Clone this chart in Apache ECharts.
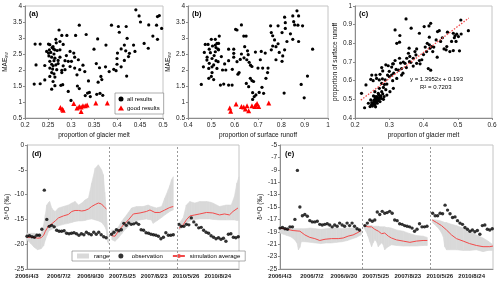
<!DOCTYPE html>
<html><head><meta charset="utf-8">
<script src="https://cdn.jsdelivr.net/npm/echarts@6/dist/echarts.min.js"></script>
<style>html,body{margin:0;padding:0;background:#fff}#c{width:500px;height:285px}</style>
</head><body><div id="c"></div><script>
// ---------- Panel (a): proportion of glacier melt vs MAE ----------
const aAll = [[0.441,3.88],[0.448,3.69],[0.451,3.50],[0.488,3.67],[0.492,3.70],[0.497,3.30],[0.486,3.40],[0.469,3.41],[0.388,3.40],[0.403,3.36],[0.405,3.18],[0.420,3.36],[0.318,3.40],[0.274,3.25],[0.280,3.08],[0.291,3.08],[0.310,3.08],[0.333,3.11],[0.358,2.97],[0.422,2.99],[0.478,3.06],[0.488,2.96],[0.459,2.83],[0.468,2.68],[0.436,2.78],[0.416,2.78],[0.376,2.78],[0.350,2.65],[0.409,2.66],[0.419,2.60],[0.401,2.53],[0.439,2.58],[0.427,2.52],[0.400,2.36],[0.416,2.30],[0.425,2.42],[0.400,2.18],[0.393,2.02],[0.398,1.98],[0.383,1.95],[0.409,2.10],[0.421,1.81],[0.355,2.20],[0.362,2.07],[0.375,2.10],[0.365,1.80],[0.367,1.70],[0.359,1.62],[0.338,1.66],[0.356,1.24],[0.363,1.27],[0.369,1.21],[0.331,1.20],[0.342,1.17],[0.336,1.28],[0.340,1.30],[0.318,1.42],[0.314,1.50],[0.300,1.05],[0.294,1.33],
[0.222,2.81],[0.233,2.81],[0.251,2.81],[0.254,2.79],[0.267,2.96],[0.276,2.89],[0.261,2.73],[0.283,2.80],[0.253,2.63],[0.265,2.63],[0.270,2.61],[0.276,2.63],[0.251,2.53],[0.256,2.55],[0.263,2.50],[0.252,2.44],[0.258,2.40],[0.265,2.37],[0.276,2.40],[0.254,2.27],[0.263,2.29],[0.272,2.30],[0.287,2.29],[0.294,2.27],[0.224,2.16],[0.243,2.14],[0.258,2.18],[0.261,2.13],[0.267,2.16],[0.283,2.13],[0.298,2.11],[0.254,2.06],[0.260,2.03],[0.269,2.01],[0.280,1.99],[0.287,2.01],[0.258,1.92],[0.263,1.88],[0.280,1.92],[0.254,1.80],[0.265,1.78],[0.243,1.69],[0.261,1.64],[0.220,1.56],[0.233,1.57],[0.265,1.51],[0.282,1.54],[0.258,1.40],[0.298,2.58],[0.306,2.53],[0.308,2.40],[0.301,2.27],[0.316,2.32],[0.308,2.06],[0.319,2.01],[0.313,1.85],[0.262,2.66],[0.259,2.70],[0.268,2.85],[0.247,2.58],[0.272,2.20],[0.290,2.45],[0.326,2.15],[0.330,1.95],[0.278,1.52]];
const aGood = [[0.277,0.83],[0.283,0.74],[0.306,0.95],[0.313,0.81],[0.318,0.86],[0.322,0.70],[0.326,0.88],[0.331,0.88],[0.335,0.91],[0.354,0.97],[0.379,0.97],[0.322,0.84],[0.281,0.78]];

// ---------- Panel (b): proportion of surface runoff vs MAE ----------
const bAll = [[0.867,3.85],[0.849,3.69],[0.874,3.69],[0.814,3.65],[0.853,3.51],[0.857,3.41],[0.871,3.40],[0.891,3.38],[0.817,3.48],[0.786,3.38],[0.754,3.38],[0.757,3.17],[0.763,3.07],[0.771,2.94],[0.803,3.17],[0.817,3.30],[0.839,3.13],[0.849,2.96],[0.824,2.89],[0.786,2.82],[0.777,2.73],[0.763,2.75],[0.757,2.63],[0.874,2.89],[0.934,2.65],[0.814,2.63],[0.806,2.44],[0.791,2.55],[0.714,2.58],[0.731,2.53],[0.689,2.56],[0.710,2.32],[0.777,2.32],[0.803,2.27],[0.743,2.06],[0.674,2.11],[0.700,2.06],[0.720,2.06],
[0.629,3.41],[0.610,3.25],[0.639,3.06],[0.649,3.06],[0.534,3.06],[0.500,2.96],[0.517,2.96],[0.524,2.83],[0.474,2.80],[0.486,2.80],[0.517,2.78],[0.531,2.83],[0.491,2.65],[0.529,2.65],[0.496,2.54],[0.517,2.57],[0.531,2.63],[0.574,2.65],[0.596,2.65],[0.643,2.73],[0.596,2.52],[0.629,2.50],[0.596,2.40],[0.624,2.33],[0.610,2.26],[0.543,2.42],[0.503,2.36],[0.520,2.29],[0.481,2.31],[0.491,2.21],[0.510,2.16],[0.529,2.26],[0.557,2.19],[0.574,2.29],[0.466,2.10],[0.503,2.10],[0.489,2.05],[0.524,2.05],[0.548,2.00],[0.562,2.00],[0.590,2.02],[0.619,1.92],[0.652,2.32],[0.662,2.24],[0.668,2.15],[0.640,2.38],[0.658,2.48],[0.520,2.70],[0.505,2.75],[0.512,2.45],[0.470,2.55],[0.482,2.40],[0.500,1.80],[0.510,1.70],[0.604,3.27],[0.655,2.60],
[0.457,1.55],[0.489,1.74],[0.503,1.92],[0.539,1.53],[0.553,1.56],[0.574,1.53],[0.589,1.53],[0.614,1.87],[0.660,1.48],[0.674,1.67],[0.677,1.29],[0.691,1.22],[0.717,1.46],[0.724,1.27],[0.684,1.17],[0.677,1.08],[0.734,1.74],[0.741,1.92],[0.667,1.74],[0.681,1.64],[0.650,1.58],[0.705,1.30],[0.885,1.55],[0.912,1.81],[0.812,1.28],[0.898,1.13]];
const bGood = [[0.579,0.81],[0.583,0.71],[0.606,0.94],[0.629,0.86],[0.639,0.84],[0.646,0.78],[0.660,0.73],[0.674,0.88],[0.686,0.86],[0.696,0.95],[0.703,0.86],[0.746,0.97],[0.653,0.88],[0.690,0.90]];

// ---------- Panel (c): glacier melt vs surface runoff ----------
const cAll = [[0.349,0.931],[0.317,0.872],[0.331,0.842],[0.330,0.806],[0.322,0.800],[0.364,0.881],[0.388,0.854],[0.402,0.890],[0.416,0.893],[0.421,0.907],[0.509,0.925],[0.531,0.868],[0.487,0.854],[0.492,0.840],[0.497,0.849],[0.502,0.836],[0.482,0.810],[0.495,0.810],[0.441,0.863],[0.446,0.868],[0.437,0.818],[0.450,0.810],[0.417,0.833],[0.411,0.800],[0.417,0.792],[0.424,0.783],[0.419,0.774],[0.427,0.756],[0.409,0.756],[0.468,0.783],[0.466,0.765],[0.477,0.756],[0.487,0.761],[0.440,0.726],[0.358,0.774],[0.356,0.747],[0.375,0.756],[0.378,0.738],[0.395,0.712],[0.388,0.708],[0.363,0.698],[0.351,0.720],[0.341,0.700],[0.317,0.708],[0.310,0.690],[0.333,0.694],[0.290,0.685],[0.278,0.670],
[0.219,0.532],[0.232,0.577],[0.249,0.630],[0.261,0.630],[0.263,0.612],[0.273,0.634],[0.281,0.652],[0.297,0.680],[0.307,0.673],[0.312,0.690],[0.246,0.607],[0.253,0.600],[0.271,0.604],[0.278,0.586],[0.288,0.604],[0.300,0.622],[0.307,0.630],[0.313,0.640],[0.327,0.656],[0.336,0.665],[0.346,0.693],[0.359,0.702],[0.370,0.678],[0.380,0.693],[0.414,0.665],[0.421,0.656],[0.336,0.630],[0.322,0.612],[0.310,0.600],[0.293,0.582],[0.283,0.564],[0.271,0.559],[0.278,0.541],[0.268,0.532],[0.258,0.541],[0.254,0.518],[0.246,0.497],[0.239,0.479],[0.228,0.455],[0.249,0.482],[0.256,0.488],[0.261,0.497],[0.265,0.505],[0.271,0.511],[0.275,0.518],[0.281,0.529],[0.258,0.470],[0.251,0.464],[0.244,0.461],[0.265,0.479],[0.273,0.488],[0.283,0.500],[0.293,0.523],[0.302,0.541],[0.312,0.559],[0.290,0.552],
[0.252,0.475],[0.255,0.495],[0.259,0.505],[0.262,0.485],[0.267,0.492],[0.263,0.515],[0.269,0.525],[0.248,0.470],[0.256,0.478],[0.270,0.500],[0.260,0.460],[0.277,0.505],[0.285,0.515],[0.258,0.515],
[0.300,0.650],[0.295,0.630],[0.320,0.660],[0.340,0.640],[0.350,0.670],[0.360,0.730],[0.370,0.720],[0.380,0.770],[0.390,0.690],[0.400,0.740],[0.405,0.780],[0.430,0.780],[0.455,0.830],[0.470,0.860],[0.490,0.830],[0.510,0.850],[0.505,0.760],[0.460,0.770],[0.330,0.720],[0.280,0.610],[0.286,0.580]];
const trendSlope = 1.3952, trendIntercept = 0.193;
const trendXRange = [0.217, 0.532];

// ---------- Panels (d),(e): time series (x = days since 2006/4/3, compressed axis) ----------
const dateLabels = ['2006/4/3','2006/7/2','2006/9/30','2007/5/25','2007/8/23','2010/5/26','2010/8/24'];
const segBreaks = [232, 424];
const obsDays = [0,7,14,21,28,35,42,49,56,63,70,77,84,91,98,105,112,119,126,133,140,147,154,161,168,175,182,189,196,203,210,217,224,
 239,246,253,260,267,274,281,288,295,302,309,316,323,330,337,344,351,358,365,372,379,386,393,400,407,414,
 430,437,444,451,458,465,472,479,486,493,500,507,514,521,528,535,542,549,556,563,570,577,584,591,598];
const obsVals = [-18.4,-18.3,-18.5,-18.6,-18.2,-18.2,-17.0,-9.1,-15.0,-16.4,-16.2,-16.5,-17.2,-17.4,-17.4,-17.3,-17.8,-17.9,-17.8,-17.7,-17.9,-18.2,-17.9,-18.1,-17.6,-17.9,-18.1,-17.6,-18.0,-17.6,-18.1,-18.5,-18.7,
 -18.0,-17.6,-17.1,-17.3,-17.1,-15.8,-16.2,-15.7,-16.0,-15.9,-15.7,-16.0,-17.1,-17.2,-17.7,-17.8,-18.0,-18.1,-18.2,-18.4,-18.9,-18.6,-17.7,-18.2,-18.2,-18.1,
 -16.0,-16.4,-16.4,-16.0,-16.1,-14.7,-15.5,-16.1,-16.7,-16.6,-17.2,-17.6,-17.8,-18.3,-18.6,-18.9,-18.7,-19.0,-18.8,-19.4,-18.0,-17.9,-18.6,-18.7,-18.5];

// (d) range band and simulation average, per segment
const dBandX = [
 [0,10,20,30,40,47,52,56,61,64,70,75,80,89,103,117,127,136,146,155,164,174,183,193,202,211,216,220,224,228,231],
 [240,249,258,268,273,282,287,296,301,310,320,329,338,343,352,357,367,371,381,390,400,404,409,414],
 [430,442,451,461,465,475,489,508,517,526,545,564,573,578,587,594,600]];
const dBandLow = [
 [-19.1,-19.8,-20.6,-21.1,-20.9,-20.3,-19.1,-18.3,-17.4,-17.2,-17.0,-16.8,-16.6,-16.3,-16.0,-15.8,-15.6,-15.4,-15.3,-15.3,-15.2,-15.0,-14.9,-15.1,-15.3,-15.6,-16.0,-16.4,-17.0,-19.5,-19.9],
 [-19.1,-19.4,-18.8,-17.9,-17.4,-16.8,-16.4,-15.7,-15.4,-15.2,-15.1,-15.0,-14.9,-15.0,-15.1,-15.8,-15.3,-15.1,-14.6,-14.1,-13.6,-13.4,-13.2,-13.1],
 [-17.1,-16.6,-15.8,-15.3,-15.1,-15.0,-14.9,-14.9,-14.9,-15.0,-15.1,-15.1,-15.1,-15.1,-15.1,-15.2,-15.2]];
const dBandHigh = [
 [-17.8,-17.8,-17.8,-17.9,-17.9,-16.1,-14.0,-12.1,-11.6,-11.4,-12.7,-13.2,-13.4,-12.7,-12.4,-12.1,-11.7,-11.4,-12.1,-11.7,-11.1,-10.7,-7.7,-4.7,-4.0,-5.0,-6.0,-9.5,-13.0,-17.5,-19.2],
 [-17.1,-17.4,-16.6,-15.4,-14.9,-14.1,-13.6,-12.7,-12.6,-12.4,-12.4,-12.4,-12.2,-12.1,-12.4,-12.5,-12.7,-12.6,-12.4,-10.7,-9.0,-8.2,-7.0,-6.4],
 [-15.8,-14.7,-12.1,-11.4,-11.5,-11.7,-11.4,-11.4,-11.5,-11.7,-12.4,-12.1,-12.1,-12.1,-10.4,-7.7,-6.4]];
const dAvgX = [
 [0,10,20,30,40,47,52,56,61,64,70,75,80,89,103,117,127,136,146,155,164,174,183,193,202,211,216,220,225],
 [240,249,258,273,287,301,320,338,348,362,376,390,404,414],
 [430,442,451,461,475,489,508,526,545,559,573,583,597]];
const dAvgVal = [
 [-18.6,-18.6,-18.6,-18.8,-18.7,-18.2,-17.4,-16.9,-16.3,-16.1,-15.9,-15.6,-15.3,-14.7,-14.3,-14.0,-13.4,-13.2,-13.2,-13.3,-13.2,-12.9,-12.4,-12.0,-11.7,-11.9,-12.3,-12.6,-12.9],
 [-18.3,-18.4,-17.4,-16.1,-15.1,-13.9,-13.7,-13.4,-13.1,-13.6,-13.6,-13.1,-12.6,-12.4],
 [-16.8,-16.1,-15.1,-14.3,-14.1,-13.9,-13.6,-13.7,-14.1,-13.9,-14.1,-13.4,-12.7]];

// (e) range band and simulation average, per segment
const eBandX = [
 [0,10,20,30,40,48,52,56,60,70,85,100,115,130,145,160,175,190,205,215,225,230],
 [237,243,248,253,258,262,267,272,277,281,286,290,295,300,305,314,328,347,366,384,403,415],
 [429,441,450,455,460,464,469,478,497,516,534,553,572,586,600]];
const eBandLow = [
 [-19.2,-19.4,-19.6,-19.8,-20.2,-20.8,-21.9,-21.5,-20.6,-20.6,-20.7,-20.8,-20.9,-20.8,-20.8,-20.7,-20.6,-20.4,-20.1,-19.9,-19.6,-19.4],
 [-18.4,-19.0,-19.7,-20.6,-21.4,-20.8,-20.3,-20.6,-21.4,-21.1,-20.8,-21.0,-21.9,-21.6,-21.4,-21.1,-21.2,-21.3,-21.3,-21.3,-21.2,-21.2],
 [-17.5,-18.1,-18.7,-19.2,-19.8,-21.4,-21.9,-21.9,-21.9,-22.0,-22.0,-21.9,-22.2,-22.0,-22.0]];
const eBandHigh = [
 [-18.2,-18.3,-18.3,-18.4,-18.5,-18.5,-18.5,-18.5,-18.5,-18.5,-18.4,-18.5,-18.6,-18.5,-18.4,-18.4,-18.5,-18.4,-18.4,-18.5,-18.7,-18.8],
 [-17.9,-17.9,-18.0,-18.0,-18.0,-18.1,-18.1,-18.1,-18.1,-18.2,-18.2,-18.2,-18.2,-18.3,-18.3,-18.4,-18.7,-18.9,-19.3,-19.6,-19.7,-19.9],
 [-17.0,-17.1,-17.2,-17.3,-17.4,-17.5,-17.5,-17.7,-18.0,-18.4,-18.9,-19.5,-20.0,-20.5,-21.1]];
const eAvgX = [
 [0,19,37,56,70,84,98,112,127,145,164,178,192,206,220,228],
 [237,248,258,267,277,286,295,305,314,328,347,366,384,403,415],
 [429,441,455,469,483,497,516,534,553,572,591,600]];
const eAvgVal = [
 [-18.4,-18.6,-18.8,-18.9,-19.5,-19.9,-20.1,-20.4,-20.2,-20.1,-20.1,-20.0,-19.7,-19.5,-19.1,-18.8],
 [-18.0,-18.2,-18.2,-18.6,-18.9,-19.3,-19.2,-19.7,-20.0,-20.3,-20.5,-20.7,-20.5,-20.4,-20.4],
 [-17.1,-17.5,-18.0,-18.7,-19.5,-20.1,-20.5,-20.9,-21.2,-21.4,-21.4,-21.3]];

// ---------- build ----------
const FONT = 'Liberation Sans';
const axisColor = '#8c8c8c';
const labelColor = '#222';
const RED = '#f24a4a';
const GRAY = '#d9d9d9';

function valAxis(gi, min, max, interval, extra) {
  const base = {
    gridIndex: gi, type: 'value', min, max, interval,
    splitLine: {show: false},
    axisLine: {show: true, onZero: false, lineStyle: {color: axisColor, width: 1}},
    axisTick: {show: true, length: 2, lineStyle: {color: axisColor}},
    axisLabel: {fontSize: 6.5, color: labelColor, margin: 3, fontFamily: FONT},
    nameLocation: 'middle',
    nameTextStyle: {fontSize: 6.5, color: '#111', fontFamily: FONT}
  };
  for (const k in extra) {
    if (typeof extra[k] === 'object' && base[k] && !Array.isArray(extra[k])) base[k] = Object.assign({}, base[k], extra[k]);
    else base[k] = extra[k];
  }
  return base;
}

const maeName = {name: '{m|MAE}{s|sw}', nameGap: 16, nameRotate: 90,
  nameTextStyle: {rich: {m: {fontSize: 6.5, fontFamily: FONT, color: '#111'}, s: {fontSize: 4.5, fontFamily: FONT, color: '#111', verticalAlign: 'bottom', padding: [3, 0, 0, 0]}}}};

const timeLabel = {fontSize: 6, fontWeight: 'bold', margin: 4,
  formatter: v => { const i = Math.round(v / 90); return (Math.abs(v - i * 90) < 1e-6 && dateLabels[i]) ? dateLabels[i] : ''; }};

const xAxes = [
  valAxis(0, 0.2, 0.5, 0.05, {name: 'proportion of glacier melt', nameGap: 14, axisLabel: {margin: 4}}),
  valAxis(1, 0.4, 1, 0.1, {name: 'proportion of surface runoff', nameGap: 14, axisLabel: {margin: 4}}),
  valAxis(2, 0.2, 0.6, 0.1, {name: 'proportion of glacier melt', nameGap: 14, axisLabel: {margin: 4}}),
  valAxis(3, 0, 600, 90, {axisLabel: timeLabel, axisTick: {show: false}}),
  valAxis(4, 0, 600, 90, {axisLabel: timeLabel, axisTick: {show: false}})
];
const yAxes = [
  valAxis(0, 0.5, 4, 0.5, maeName),
  valAxis(1, 0.5, 4, 0.5, maeName),
  valAxis(2, 0.4, 1, 0.1, {name: 'proportion of surface runoff', nameGap: 16, nameRotate: 90}),
  valAxis(3, -25, 0, 5, {name: 'δ¹⁸O (‰)', nameGap: 16, nameRotate: 90}),
  valAxis(4, -25, -5, 2, {name: 'δ¹⁸O (‰)', nameGap: 16, nameRotate: 90})
];

const gridStyle = {show: true, borderColor: '#c4c4c4', borderWidth: 1, backgroundColor: 'transparent', containLabel: false};
const grids = [
  Object.assign({left: 25, top: 6, width: 138, height: 112}, gridStyle),
  Object.assign({left: 188, top: 6, width: 140, height: 112}, gridStyle),
  Object.assign({left: 355, top: 6, width: 137, height: 112}, gridStyle),
  Object.assign({left: 27, top: 145, width: 212, height: 124}, gridStyle),
  Object.assign({left: 280, top: 145, width: 213, height: 124}, gridStyle)
];

const series = [];
function scatter(gi, name, data, symbol, size, color) {
  series.push({type: 'scatter', name, xAxisIndex: gi, yAxisIndex: gi, data, symbol, symbolSize: size,
    itemStyle: {color, opacity: 1}, silent: true, z: 3});
}
scatter(0, 'all results', aAll, 'circle', 3.2, '#000');
scatter(0, 'good results', aGood, 'triangle', 5, '#ff0000');
scatter(1, 'all results', bAll, 'circle', 3.2, '#000');
scatter(1, 'good results', bGood, 'triangle', 5, '#ff0000');
scatter(2, 'points', cAll, 'circle', 3.2, '#000');
series.push({type: 'line', name: 'trend', xAxisIndex: 2, yAxisIndex: 2, symbol: 'none', silent: true, z: 4,
  data: trendXRange.map(x => [x, trendSlope * x + trendIntercept]),
  lineStyle: {color: RED, width: 1.3, type: [1.5, 1.5]}});

// band drawn as quads between consecutive (x, low, high) samples, mapped through the axes
function bandRender(params, api) {
  const p0l = api.coord([api.value(0), api.value(1)]);
  const p0h = api.coord([api.value(0), api.value(2)]);
  const p1h = api.coord([api.value(3), api.value(5)]);
  const p1l = api.coord([api.value(3), api.value(4)]);
  return {type: 'polygon', shape: {points: [p0l, p0h, p1h, p1l]},
    style: {fill: GRAY, stroke: GRAY, lineWidth: 0.6}};
}

function timePanel(gi, bx, blo, bhi, ax, av) {
  for (let s = 0; s < bx.length; s++) {
    const quads = [];
    for (let i = 0; i + 1 < bx[s].length; i++) {
      quads.push([bx[s][i], blo[s][i], bhi[s][i], bx[s][i + 1], blo[s][i + 1], bhi[s][i + 1]]);
    }
    series.push({type: 'custom', name: 'range', xAxisIndex: gi, yAxisIndex: gi, renderItem: bandRender,
      data: quads, encode: {x: [0, 3], y: [1, 2, 4, 5]}, itemStyle: {color: GRAY}, silent: true, z: 1});
    series.push({type: 'line', name: 'simulation average', xAxisIndex: gi, yAxisIndex: gi, symbol: 'none',
      data: ax[s].map((x, i) => [x, av[s][i]]), lineStyle: {color: RED, width: 1}, itemStyle: {color: RED}, silent: true, z: 2});
  }
  series.push({type: 'scatter', name: 'observation', xAxisIndex: gi, yAxisIndex: gi, symbol: 'circle', symbolSize: 3.4,
    data: obsDays.map((d, i) => [d, obsVals[i]]), itemStyle: {color: '#000'}, silent: true, z: 3,
    markLine: {silent: true, symbol: 'none', label: {show: false}, animation: false,
      lineStyle: {type: [2, 2], color: '#9a9a9a', width: 1},
      data: segBreaks.map(b => ({xAxis: b}))}});
}
timePanel(3, dBandX, dBandLow, dBandHigh, dAvgX, dAvgVal);
timePanel(4, eBandX, eBandLow, eBandHigh, eAvgX, eAvgVal);

const txt = (x, y, text, extra) => Object.assign({type: 'text', x, y, silent: true,
  style: Object.assign({text, fontSize: 7.5, fontFamily: FONT, fill: '#000'}, extra || {})});

const option = {
  animation: false,
  textStyle: {fontFamily: FONT},
  grid: grids, xAxis: xAxes, yAxis: yAxes, series,
  legend: [
    {show: true, data: ['all results', 'good results'], orient: 'vertical', left: 115, top: 93,
      itemWidth: 6, itemHeight: 5, itemGap: 3, padding: [3, 4, 3, 3], borderColor: '#777', borderWidth: 0.6,
      backgroundColor: '#fff', textStyle: {fontSize: 6, fontFamily: FONT, color: '#000', padding: [0, 0, 0, -2]}, selectedMode: false},
    {show: true, data: [{name: 'range', icon: 'rect', itemStyle: {color: GRAY}}, {name: 'observation', icon: 'circle'}, 'simulation average'],
      orient: 'horizontal', left: 72, top: 251, itemWidth: 12, itemHeight: 5, itemGap: 9, padding: [2, 5, 2, 5],
      borderColor: '#777', borderWidth: 0.6, backgroundColor: '#fff',
      textStyle: {fontSize: 6, fontFamily: FONT, color: '#000'}, selectedMode: false}
  ],
  graphic: [
    txt(29, 10, '(a)', {fontWeight: 'bold'}),
    txt(192, 10, '(b)', {fontWeight: 'bold'}),
    txt(359, 10, '(c)', {fontWeight: 'bold'}),
    txt(32, 150, '(d)', {fontWeight: 'bold'}),
    txt(285, 150, '(e)', {fontWeight: 'bold'}),
    txt(410, 76, 'y = 1.3952x + 0.193', {fontSize: 6}),
    txt(420, 84, 'R² = 0.7203', {fontSize: 6})
  ]
};
const chart = echarts.init(document.getElementById('c'), null, {renderer: 'canvas', width: 500, height: 285});
chart.setOption(option);
</script></body></html>
